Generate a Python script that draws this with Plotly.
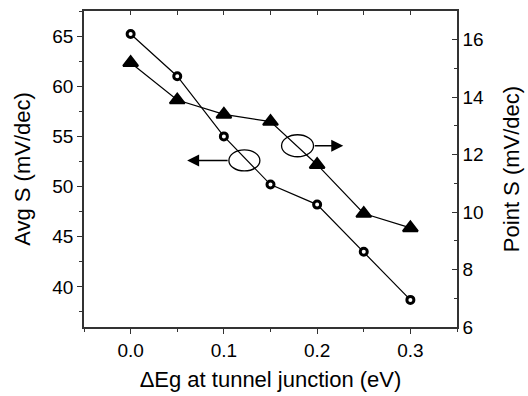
import plotly.graph_objects as go

# Band-offset sweep and the two subthreshold-swing metrics
delta_eg = [0.0, 0.05, 0.10, 0.15, 0.20, 0.25, 0.30]
avg_s = [65.2, 61.0, 55.0, 50.2, 48.2, 43.5, 38.7]          # mV/dec, left axis
point_s = [15.2, 13.9, 13.4, 13.15, 11.65, 9.95, 9.45]     # mV/dec, right axis

x_ticks = [0.0, 0.1, 0.2, 0.3]
x_tick_text = ["0.0", "0.1", "0.2", "0.3"]

FONT = "Arial, Liberation Sans, sans-serif"
AXC = "#333333"

fig = go.Figure()

fig.add_trace(go.Scatter(
    x=delta_eg, y=avg_s, mode="lines+markers", name="Avg S",
    line=dict(color="black", width=1.2),
    marker=dict(symbol="circle", size=7, color="white",
                line=dict(color="black", width=3)),
    yaxis="y", xaxis="x", showlegend=False,
))
fig.add_trace(go.Scatter(
    x=delta_eg, y=point_s, mode="lines+markers", name="Point S",
    line=dict(color="black", width=1.2),
    marker=dict(symbol="triangle-up", size=13, color="black",
                line=dict(color="black", width=2)),
    yaxis="y2", xaxis="x", showlegend=False,
))
# invisible trace so the top frame axis is drawn
fig.add_trace(go.Scatter(x=[None], y=[None], xaxis="x2", yaxis="y",
                         showlegend=False, hoverinfo="skip"))

fig.update_layout(
    width=528, height=396,
    margin=dict(l=84, r=71, t=11, b=69),
    paper_bgcolor="white", plot_bgcolor="white",
    font=dict(family=FONT, size=19, color="black"),
    xaxis=dict(
        range=[-0.05, 0.35], tickvals=x_ticks, ticktext=x_tick_text,
        ticks="outside", ticklen=5, tickwidth=1.3, tickcolor=AXC,
        minor=dict(dtick=0.05, tick0=0, ticks="outside", ticklen=3,
                   tickwidth=1.3, tickcolor=AXC),
        showline=True, linecolor=AXC, linewidth=1.5,
        showgrid=False, zeroline=False, automargin=False,
        title=dict(text="ΔEg at tunnel junction (eV)",
                   font=dict(size=22), standoff=12),
    ),
    xaxis2=dict(
        range=[-0.05, 0.35], overlaying="x", side="top", anchor="y",
        dtick=0.05, tick0=0, ticks="inside", ticklen=4, tickwidth=1.3,
        tickcolor=AXC, showticklabels=False,
        showline=True, linecolor=AXC, linewidth=1.5,
        showgrid=False, zeroline=False, automargin=False,
    ),
    yaxis=dict(
        range=[36, 67.5], dtick=5, tick0=0,
        ticks="outside", ticklen=5, tickwidth=1.3, tickcolor=AXC,
        minor=dict(dtick=2.5, tick0=0, ticks="outside", ticklen=3,
                   tickwidth=1.3, tickcolor=AXC),
        showline=True, linecolor=AXC, linewidth=1.5,
        showgrid=False, zeroline=False, automargin=False,
        title=dict(text="Avg S (mV/dec)", font=dict(size=22), standoff=16),
    ),
    yaxis2=dict(
        range=[6, 17], dtick=2, tick0=0, overlaying="y", side="right",
        anchor="x",
        ticks="inside", ticklen=5, tickwidth=1.3, tickcolor=AXC,
        minor=dict(dtick=1, tick0=0, ticks="inside", ticklen=3,
                   tickwidth=1.3, tickcolor=AXC),
        showline=True, linecolor=AXC, linewidth=1.5,
        showgrid=False, zeroline=False, automargin=False,
        title=dict(text="Point S (mV/dec)", font=dict(size=22), standoff=20),
    ),
)

# Ellipses marking which curve belongs to which axis
fig.add_shape(type="circle", xref="x", yref="y",
              xsizemode="pixel", ysizemode="pixel",
              xanchor=0.122, yanchor=52.6,
              x0=-15.5, x1=15.5, y0=-10.5, y1=10.5,
              line=dict(color="black", width=1.3))
fig.add_shape(type="circle", xref="x", yref="y2",
              xsizemode="pixel", ysizemode="pixel",
              xanchor=0.179, yanchor=12.31,
              x0=-16, x1=16, y0=-11, y1=11,
              line=dict(color="black", width=1.3))

# Arrows pointing to the matching axis
fig.add_annotation(x=0.0606, y=52.6, xref="x", yref="y", text="",
                   showarrow=True, ax=42, ay=0, arrowhead=2,
                   arrowsize=1.6, arrowwidth=1.5, arrowcolor="black")
fig.add_annotation(x=0.228, y=12.31, xref="x", yref="y2", text="",
                   showarrow=True, ax=-30, ay=0, arrowhead=2,
                   arrowsize=1.6, arrowwidth=1.5, arrowcolor="black")

fig.write_html("out.html")
